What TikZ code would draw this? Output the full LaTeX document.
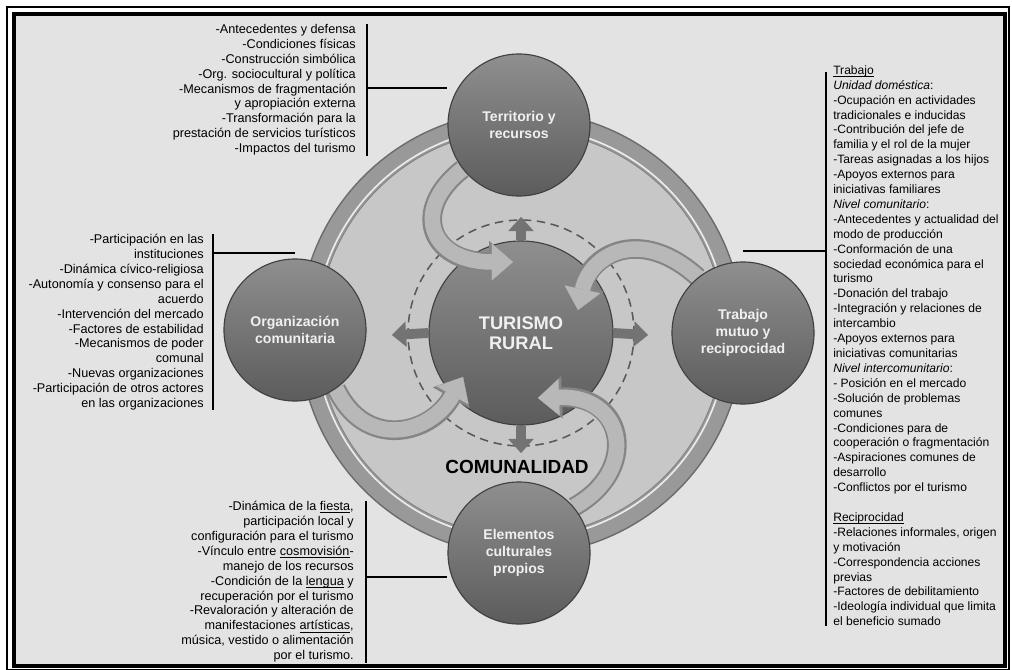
\documentclass[tikz,border=0pt]{standalone}
\usepackage{fontspec}
\setmainfont{Liberation Sans}
\usetikzlibrary{arrows.meta,calc}
\pgfdeclarelayer{fondo}
\pgfdeclarelayer{medio}
\pgfsetlayers{fondo,medio,main}
% underline that ignores descenders
\newcommand{\subr}[1]{\underline{\smash{#1}}}
\tikzset{
    %Define style for circles
    bola/.style={
           circle,
           draw=black!75, line width=0.8pt,
           top color=black!44, bottom color=black!64,
           minimum size=3.55cm,
           text=black!6,
           font=\bfseries\fontsize{10}{12}\selectfont,
           align=center},
    centro/.style={
           bola,
           minimum size=4.6cm,
           font=\bfseries\fontsize{13}{14.5}\selectfont},
    % Define style for text lists
    lista/.style={
           inner sep=0pt,
           font=\fontsize{9}{10.6}\selectfont},
    barra/.style={line width=1.4pt},
    % Define arrow styles
    giro/.style={
           line width=11pt, draw=black!28,
           -{Triangle[width=26pt,length=15pt,line width=0.1pt]},
           preaction={draw=black!48, line width=14pt,
             -{Triangle[width=30pt,length=17pt,line width=0.1pt]}}},
    cruz/.style={
           line width=7pt, draw=black!55,
           -{Triangle[width=18pt,length=10pt,line width=0.1pt]}}
}

\begin{document}
\begin{tikzpicture}[x=0.025cm,y=-0.025cm]
\useasboundingbox (0,0) rectangle (1012,670);
\coordinate (cen) at (521,333);

 %nodes
\node[bola](ter) at (519,125){Territorio y\\recursos};
\node[bola](org) at (295,330){Organización\\comunitaria};
\node[bola](trb) at (743,333){Trabajo\\mutuo y\\reciprocidad};
\node[bola](elm) at (519,553){Elementos\\culturales\\propios};
\node[font=\bfseries\fontsize{13.5}{15}\selectfont](com) at (517,467){COMUNALIDAD};

\node[lista, anchor=north east, align=right](lstT) at (356,24){%
-Antecedentes y defensa\\
-Condiciones físicas\\
-Construcción simbólica\\
-Org. sociocultural y política\\
-Mecanismos de fragmentación\\
y apropiación externa\\
-Transformación para la\\
prestación de servicios turísticos\\
-Impactos del turismo};

\node[lista, anchor=north east, align=right](lstL) at (204,234){%
-Participación en las\\
instituciones\\
-Dinámica cívico-religiosa\\
-Autonomía y consenso para el\\
acuerdo\\
-Intervención del mercado\\
-Factores de estabilidad\\
-Mecanismos de poder\\
comunal\\
-Nuevas organizaciones\\
-Participación de otros actores\\
en las organizaciones};

\node[lista, anchor=north east, align=right](lstB) at (354,501){%
-Dinámica de la \subr{fiesta},\\
participación local y\\
configuración para el turismo\\
-Vínculo entre \subr{cosmovisión}-\\
manejo de los recursos\\
-Condición de la \subr{lengua} y\\
recuperación por el turismo\\
-Revaloración y alteración de\\
manifestaciones \subr{artísticas},\\
música, vestido o alimentación\\
por el turismo.};

\node[lista, anchor=north west, align=left,
      font=\fontsize{8.6}{10.6}\selectfont](lstR) at (833,74){%
\subr{Trabajo}\\
\textit{Unidad doméstica}:\\
-Ocupación en actividades\\
tradicionales e inducidas\\
-Contribución del jefe de\\
familia y el rol de la mujer\\
-Tareas asignadas a los hijos\\
-Apoyos externos para\\
iniciativas familiares\\
\textit{Nivel comunitario}:\\
-Antecedentes y actualidad del\\
modo de producción\\
-Conformación de una\\
sociedad económica para el\\
turismo\\
-Donación del trabajo\\
-Integración y relaciones de\\
intercambio\\
-Apoyos externos para\\
iniciativas comunitarias\\
\textit{Nivel intercomunitario}:\\
- Posición en el mercado\\
-Solución de problemas\\
comunes\\
-Condiciones para de\\
cooperación o fragmentación\\
-Aspiraciones comunes de\\
desarrollo\\
-Conflictos por el turismo\\
\mbox{}\\
\subr{Reciprocidad}\\
-Relaciones informales, origen\\
y motivación\\
-Correspondencia acciones\\
previas\\
-Factores de debilitamiento\\
-Ideología individual que limita\\
el beneficio sumado};

 %background: frame, ring, centre
\begin{pgfonlayer}{fondo}
\fill[black!11] (14,14) rectangle (1005,666);
\draw[line width=2.6pt] (14,14) rectangle (1005,666);
\draw[line width=1pt] (7,7) rectangle (1009,670);
\fill[black!40, draw=black!58, line width=1pt] (cen) circle (222);
\draw[black!8, line width=1.2pt] (cen) circle (206);
\fill[black!22, draw=black!50, line width=0.6pt] (cen) circle (203);
\draw[black!65, line width=1.1pt, dash pattern=on 6pt off 4pt] (cen) circle (113);
\node[centro](tur) at (cen){TURISMO\\RURAL};
\coordinate (aN) at (521,217);
\coordinate (aS) at (521,453);
\coordinate (aW) at (392,335);
\coordinate (aE) at (648,335);
\foreach \a/\b in {north/aN, south/aS, west/aW, east/aE}
    \draw[cruz] (tur.\a) -- (\b);
\end{pgfonlayer}

 %swirl arrows into the centre
\coordinate (p1) at (513,262);
\coordinate (p2) at (578,310);
\coordinate (p3) at (538,398);
\coordinate (p4) at (463,377);
\begin{pgfonlayer}{medio}
\draw[giro] (ter.218) .. controls (410,210) and (430,262) .. (p1);
\draw[giro] (trb.129) .. controls (640,225) and (590,255) .. (p2);
\draw[giro] (elm.40) .. controls (640,470) and (625,395) .. (p3);
\draw[giro] (org.-55) .. controls (365,450) and (430,435) .. (p4);
\end{pgfonlayer}

 %brackets
\draw[barra] ($(lstT.north east)+(11,0)$) -- ($(lstT.south east)+(11,0)$);
\coordinate (hT) at ($(lstT.north east)+(11,64)$);
\draw[barra] (hT) -- (hT -| ter.west);

\draw[barra] ($(lstL.north east)+(9,0)$) -- ($(lstL.south east)+(9,0)$);
\coordinate (hL) at ($(lstL.north east)+(9,19)$);
\draw[barra] (hL) -- (hL -| org.north);

\draw[barra] ($(lstB.north east)+(12,0)$) -- ($(lstB.south east)+(12,0)$);
\coordinate (hB) at ($(lstB.north east)+(12,76)$);
\draw[barra] (hB) -- (hB -| elm.west);

\draw[barra] ($(lstR.north west)+(-7,-2)$) -- ($(lstR.south west)+(-7,0)$);
\coordinate (hR) at ($(lstR.north west)+(-7,177)$);
\draw[barra] (hR) -- (hR -| trb.north);
\end{tikzpicture}
\end{document}
